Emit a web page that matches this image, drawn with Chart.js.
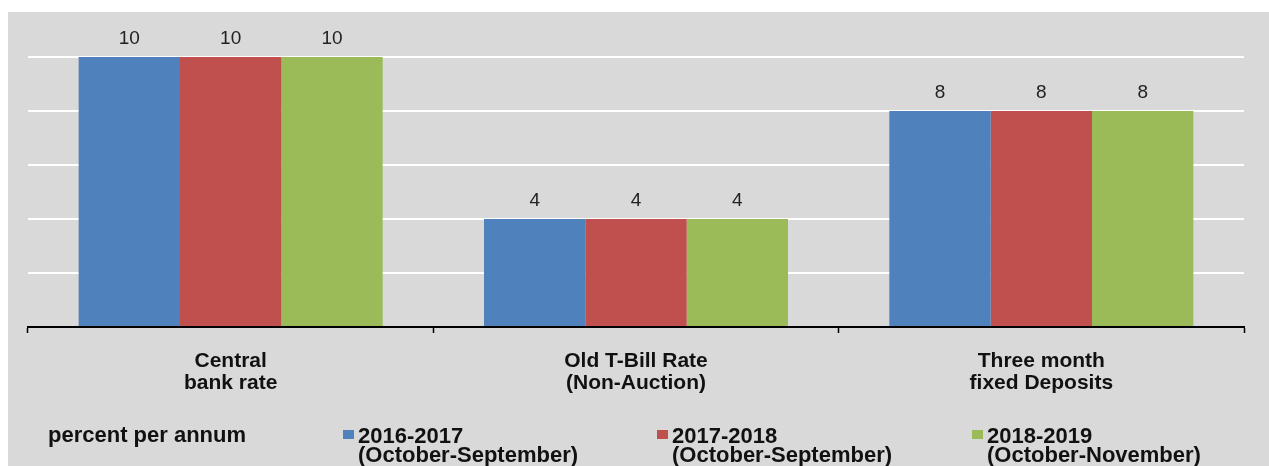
<!DOCTYPE html>
<html>
<head>
<meta charset="utf-8">
<script src="https://cdn.jsdelivr.net/npm/chart.js@4.4.0/dist/chart.umd.min.js"></script>
<style>
  body { margin: 0; background: #fff; }
  #wrap { position: relative; width: 1269px; height: 466px; }
  .leg { position: absolute; font: bold 22px Arial, 'Liberation Sans', sans-serif; color: #111; line-height: 19px; white-space: nowrap; }
  .sw { position: absolute; width: 11px; height: 9px; }
</style>
</head>
<body>
<div id="wrap">
  <canvas id="rateChart"></canvas>
</div>
<script>
const categories = [['Central', 'bank rate'], ['Old T-Bill Rate', '(Non-Auction)'], ['Three month', 'fixed Deposits']];
const seriesNames = ['2016-2017', '2017-2018', '2018-2019'];
const seriesPeriods = ['(October-September)', '(October-September)', '(October-November)'];
const values2016 = [10, 4, 8];
const values2017 = [10, 4, 8];
const values2018 = [10, 4, 8];
const unitLabel = 'percent per annum';

const colors = ['#4f81bd', '#c0504d', '#9bbb59'];
const legendLeft = [343, 657, 972];
const fontFamily = "Arial, 'Liberation Sans', sans-serif";

// grey panel behind everything
const panelBg = {
    id: 'panelBg',
    beforeDraw(chart) {
        const c = chart.ctx;
        c.save();
        c.fillStyle = '#fff';
        c.fillRect(0, 0, chart.width, chart.height);
        c.fillStyle = '#d9d9d9';
        c.fillRect(8, 12, chart.width - 8, chart.height - 12);
        c.restore();
    }
};

// value labels above bars
const valueLabels = {
    id: 'valueLabels',
    afterDatasetsDraw(chart) {
        const c = chart.ctx;
        c.save();
        c.font = '19px ' + fontFamily;
        c.fillStyle = '#222';
        c.textAlign = 'center';
        c.textBaseline = 'alphabetic';
        chart.data.datasets.forEach(function (ds, i) {
            chart.getDatasetMeta(i).data.forEach(function (bar, j) {
                c.fillText(String(ds.data[j]), bar.x, bar.y - 13);
            });
        });
        c.restore();
    }
};

const allValues = [values2016, values2017, values2018];

const ctx = document.getElementById('rateChart').getContext('2d');
const rateChart = new Chart(ctx, {
    type: 'bar',
    data: {
        labels: categories,
        datasets: seriesNames.map(function (name, i) {
            return {
                label: name,
                data: allValues[i],
                backgroundColor: colors[i],
                borderWidth: 0,
                categoryPercentage: 0.75,
                barPercentage: 1.0
            };
        })
    },
    options: {
        responsive: true,
        maintainAspectRatio: false,
        animation: false,
        layout: { padding: { left: 28, right: 25, top: 57, bottom: 0 } },
        plugins: {
            legend: { display: false },
            tooltip: { enabled: false }
        },
        scales: {
            x: {
                offset: true,
                grid: {
                    offset: true,
                    drawOnChartArea: false,
                    drawTicks: true,
                    tickLength: 6,
                    tickColor: '#000',
                    tickWidth: 1.5,
                    color: '#000'
                },
                border: { color: '#000', width: 2 },
                ticks: {
                    color: '#111',
                    padding: 17,
                    maxRotation: 0,
                    font: { family: fontFamily, size: 21, weight: 'bold', lineHeight: '22px' }
                },
                afterFit: function (scale) { scale.height = 139; }
            },
            y: {
                min: 0,
                max: 10,
                ticks: { display: false, stepSize: 2 },
                grid: {
                    drawTicks: false,
                    lineWidth: 2,
                    color: function (c) { return c.tick && c.tick.value === 0 ? 'rgba(0,0,0,0)' : '#ffffff'; }
                },
                border: { display: false },
                afterFit: function (scale) { scale.width = 0; }
            }
        }
    },
    plugins: [panelBg, valueLabels]
});

// legend row under the chart
const wrap = document.getElementById('wrap');
const unit = document.createElement('div');
unit.className = 'leg';
unit.style.left = '48px';
unit.style.top = '425px';
unit.textContent = unitLabel;
wrap.appendChild(unit);

seriesNames.forEach(function (name, i) {
    const sw = document.createElement('div');
    sw.className = 'sw';
    sw.style.left = legendLeft[i] + 'px';
    sw.style.top = '430px';
    sw.style.background = colors[i];
    wrap.appendChild(sw);

    const txt = document.createElement('div');
    txt.className = 'leg';
    txt.style.left = (legendLeft[i] + 15) + 'px';
    txt.style.top = '426px';
    txt.innerHTML = name + '<br>' + seriesPeriods[i];
    wrap.appendChild(txt);
});
</script>
</body>
</html>
